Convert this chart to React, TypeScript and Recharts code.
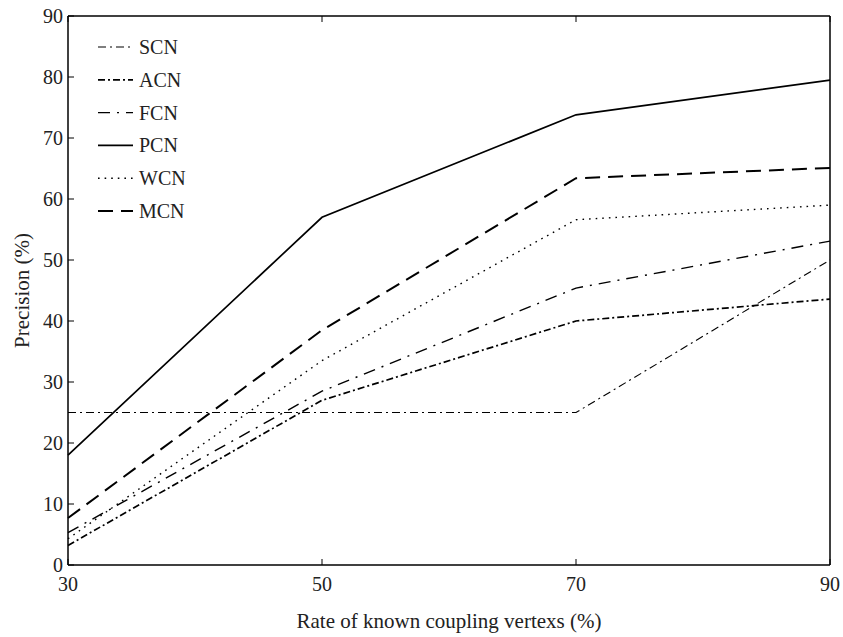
import { LineChart, Line, XAxis, YAxis } from "recharts";

const rates = [30, 50, 70, 90];
const scn = [25, 25, 25, 50];
const acn = [3.2, 27, 40, 43.6];
const fcn = [5.3, 28.5, 45.4, 53.1];
const pcn = [18, 57, 73.8, 79.5];
const wcn = [4.3, 33.5, 56.6, 59];
const mcn = [7.7, 38.5, 63.4, 65.1];
const yTicks = [0, 10, 20, 30, 40, 50, 60, 70, 80, 90];

const data = rates.map((x, i) => ({
  x,
  SCN: scn[i],
  ACN: acn[i],
  FCN: fcn[i],
  PCN: pcn[i],
  WCN: wcn[i],
  MCN: mcn[i],
}));

// line look per series
const styles: Record<string, { dash?: string; w: number }> = {
  SCN: { dash: "8 4 2 4", w: 1.1 },
  ACN: { dash: "7 3 2 3", w: 1.7 },
  FCN: { dash: "12 7 2 7", w: 1.4 },
  PCN: { w: 1.7 },
  WCN: { dash: "1.6 5", w: 1.4 },
  MCN: { dash: "15 8", w: 2 },
};
const names = ["SCN", "ACN", "FCN", "PCN", "WCN", "MCN"];

const font = "'Liberation Serif', 'DejaVu Serif', serif";
const tickStyle = { fill: "#222", fontSize: 20, fontFamily: font };

const LegendBox = () => (
  <svg
    width={150}
    height={200}
    style={{ position: "absolute", left: 90, top: 35 }}
  >
    {names.map((n, i) => {
      const y = 12 + i * 32.8;
      const s = styles[n];
      return (
        <g key={n}>
          <line
            x1={8}
            x2={43}
            y1={y}
            y2={y}
            stroke="#000"
            strokeWidth={s.w}
            strokeDasharray={s.dash}
          />
          <text x={49} y={y + 7} fontSize={20} fontFamily={font} fill="#222">
            {n}
          </text>
        </g>
      );
    })}
  </svg>
);

export default function App() {
  return (
    <div
      style={{
        position: "absolute",
        left: 0,
        top: 0,
        width: 843,
        height: 637,
        background: "#fff",
      }}
    >
      <LineChart
        width={843}
        height={637}
        data={data}
        margin={{ top: 0, right: 0, bottom: 0, left: 0 }}
      >
        <XAxis
          xAxisId="bottom"
          dataKey="x"
          type="number"
          domain={[30, 90]}
          ticks={rates}
          height={72}
          tick={tickStyle}
          tickSize={-6}
          tickMargin={18}
          stroke="#000"
          axisLine={{ stroke: "#000", strokeWidth: 1.5 }}
          label={{
            value: "Rate of known coupling vertexs (%)",
            position: "insideBottom",
            offset: 9,
            style: { fill: "#222", fontSize: 21, fontFamily: font },
          }}
        />
        <XAxis
          xAxisId="top"
          orientation="top"
          dataKey="x"
          type="number"
          domain={[30, 90]}
          ticks={rates}
          height={16}
          tickFormatter={() => ""}
          tickSize={-6}
          stroke="#000"
          axisLine={{ stroke: "#000", strokeWidth: 1.5 }}
        />
        <YAxis
          yAxisId="left"
          domain={[0, 90]}
          ticks={yTicks}
          width={68}
          tick={tickStyle}
          tickSize={-6}
          tickMargin={11}
          stroke="#000"
          axisLine={{ stroke: "#000", strokeWidth: 1.5 }}
          label={{
            value: "Precision (%)",
            angle: -90,
            position: "insideLeft",
            offset: 22,
            style: { fill: "#222", fontSize: 21, fontFamily: font, textAnchor: "middle" },
          }}
        />
        <YAxis
          yAxisId="right"
          orientation="right"
          domain={[0, 90]}
          ticks={yTicks}
          width={13}
          tickFormatter={() => ""}
          tickSize={-6}
          stroke="#000"
          axisLine={{ stroke: "#000", strokeWidth: 1.5 }}
        />
        {names.map((n) => (
          <Line
            key={n}
            xAxisId="bottom"
            yAxisId="left"
            type="linear"
            dataKey={n}
            stroke="#000"
            strokeWidth={styles[n].w}
            strokeDasharray={styles[n].dash}
            dot={false}
            isAnimationActive={false}
          />
        ))}
      </LineChart>
      <LegendBox />
    </div>
  );
}
